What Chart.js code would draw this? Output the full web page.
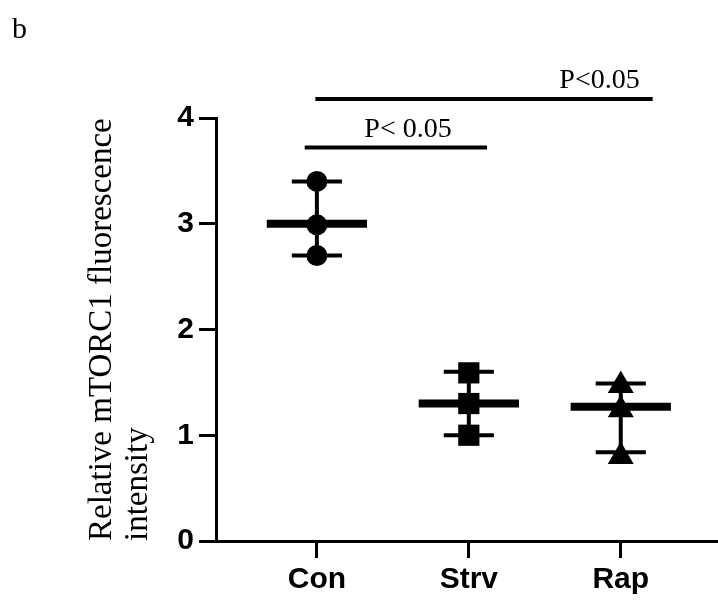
<!DOCTYPE html>
<html lang="en">
<head>
    <meta charset="UTF-8">
    <title>Relative mTORC1 fluorescence intensity</title>
    <script src="https://cdn.jsdelivr.net/npm/chart.js"></script>
    <style>
        body { margin: 0; background: #fff; }
        #wrap { position: relative; width: 718px; height: 603px; }
    </style>
</head>
<body>
    <div id="wrap"><canvas id="chart"></canvas></div>

    <script>
        // data
        const groups = ['Con', 'Strv', 'Rap'];
        const conValues = [3.40, 2.99, 2.70];
        const strvValues = [1.59, 1.30, 1.00];
        const rapValues = [1.47, 1.24, 0.80];
        const means = [3.00, 1.30, 1.27];
        const errLow = [2.70, 1.00, 0.84];
        const errHigh = [3.40, 1.60, 1.49];
        const yTicks = [0, 1, 2, 3, 4];
        const sigBars = [
            { from: 0.99, to: 3.21, y: 4.18, text: 'P<0.05', textX: 2.86 },
            { from: 0.92, to: 2.12, y: 3.72, text: 'P< 0.05', textX: 1.60 }
        ];

        const meanHalf = 0.33;
        const capHalf = 0.165;

        // horizontal/vertical segments separated by gaps
        function hSegs(vals, half) {
            return vals.flatMap((v, i) => [
                { x: i + 1 - half, y: v }, { x: i + 1 + half, y: v }, { x: i + 1.5, y: null }
            ]);
        }
        function vSegs(lo, hi) {
            return lo.flatMap((v, i) => [
                { x: i + 1, y: v }, { x: i + 1, y: hi[i] }, { x: i + 1.5, y: null }
            ]);
        }
        function pts(vals, i) {
            return vals.map(v => ({ x: i + 1, y: v }));
        }

        const seg = (data, width) => ({
            type: 'line', data, showLine: true, spanGaps: false,
            borderColor: '#000', borderWidth: width, borderCapStyle: 'butt',
            pointRadius: 0, fill: false
        });
        const marks = (data, style, r) => ({
            type: 'scatter', data, pointStyle: style, pointRadius: r,
            backgroundColor: '#000', borderColor: '#000', borderWidth: 0
        });

        const sigPlugin = {
            id: 'sig',
            afterDraw(chart) {
                const { ctx, scales: { x, y } } = chart;
                ctx.save();
                ctx.strokeStyle = '#000';
                ctx.fillStyle = '#000';
                ctx.lineWidth = 4;
                ctx.font = '28px "Liberation Serif", "Times New Roman", serif';
                ctx.textAlign = 'center';
                ctx.textBaseline = 'alphabetic';
                sigBars.forEach(b => {
                    const py = y.getPixelForValue(b.y);
                    ctx.beginPath();
                    ctx.moveTo(x.getPixelForValue(b.from), py);
                    ctx.lineTo(x.getPixelForValue(b.to), py);
                    ctx.stroke();
                    ctx.fillText(b.text, x.getPixelForValue(b.textX), py - 11);
                });
                // panel letter
                ctx.textAlign = 'left';
                ctx.font = '30px "Liberation Serif", "Times New Roman", serif';
                ctx.fillText('b', 12, 38);
                ctx.restore();
            }
        };

        const tickFont = { family: '"Liberation Sans", Arial, sans-serif', size: 30, weight: 'bold' };

        new Chart(document.getElementById('chart'), {
            type: 'scatter',
            data: {
                datasets: [
                    marks(pts(conValues, 0), 'circle', 10.5),
                    marks(pts(strvValues, 1), 'rect', 15),
                    marks(pts(rapValues, 2), 'triangle', 15),
                    seg(hSegs(means, meanHalf), 8),
                    seg(vSegs(errLow, errHigh), 4),
                    seg(hSegs(errLow, capHalf), 4),
                    seg(hSegs(errHigh, capHalf), 4)
                ]
            },
            options: {
                responsive: true,
                maintainAspectRatio: false,
                animation: false,
                layout: { autoPadding: false, padding: { left: 84, top: 118, right: 0, bottom: 0 } },
                plugins: { legend: { display: false }, tooltip: { enabled: false } },
                scales: {
                    x: {
                        type: 'linear',
                        min: 0.336,
                        max: 3.64,
                        afterBuildTicks: s => { s.ticks = groups.map((g, i) => ({ value: i + 1 })); },
                        afterFit: s => { s.height = 62; s.paddingLeft = 0; s.paddingRight = 0; },
                        ticks: {
                            color: '#000', font: tickFont, padding: 4, maxRotation: 0,
                            callback: v => groups[v - 1]
                        },
                        grid: { drawOnChartArea: false, drawTicks: true, tickLength: 17, tickWidth: 3, tickColor: '#000' },
                        border: { display: true, color: '#000', width: 3 }
                    },
                    y: {
                        min: 0,
                        max: 4,
                        afterBuildTicks: s => { s.ticks = yTicks.map(v => ({ value: v })); },
                        afterFit: s => { s.width = 132; s.paddingTop = 0; s.paddingBottom = 0; },
                        ticks: { color: '#000', font: tickFont, padding: 5 },
                        grid: { drawOnChartArea: false, drawTicks: true, tickLength: 17, tickWidth: 3, tickColor: '#000' },
                        border: { display: true, color: '#000', width: 3 },
                        title: {
                            display: true,
                            align: 'start',
                            text: ['Relative mTORC1 fluorescence', 'intensity'],
                            color: '#000',
                            padding: { top: 0, bottom: 0 },
                            font: { family: '"Liberation Serif", "Times New Roman", serif', size: 33, lineHeight: 1.09 }
                        }
                    }
                }
            },
            plugins: [sigPlugin]
        });
    </script>
</body>
</html>
